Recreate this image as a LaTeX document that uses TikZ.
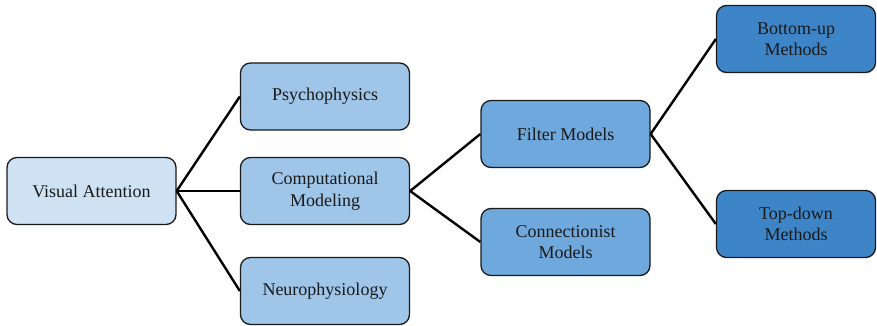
\documentclass[tikz,border=0pt]{standalone}
\usepackage{fontspec}
\setmainfont{Liberation Serif}
\definecolor{c1}{HTML}{CFE2F3}
\definecolor{c2}{HTML}{9FC5E8}
\definecolor{c3}{HTML}{6FA8DC}
\definecolor{c4}{HTML}{3D85C6}
\definecolor{ink}{HTML}{1A1A1A}
\begin{document}
\begin{tikzpicture}[x=1pt,y=-1pt,
  box/.style={draw=ink, line width=1.3pt, rounded corners=10pt,
    minimum width=169pt, minimum height=67pt, align=center,
    font=\fontsize{18}{21.5}\selectfont, text=ink, inner sep=0pt},
  lone/.style={box, fill=c1},
  ltwo/.style={box, fill=c2},
  lthree/.style={box, fill=c3},
  lfour/.style={box, fill=c4},
  link/.style={line width=2.4pt, draw=black}]
\useasboundingbox (0,0) rectangle (877,326);
\node[lone] (va) at (91.5,191) {Visual Attention};
\node[ltwo] (psy) at (325,96.5) {Psychophysics};
\node[ltwo] (comp) at (325,191) {Computational\\Modeling};
\node[ltwo] (neuro) at (325,291) {Neurophysiology};
\node[lthree] (filt) at (565.5,134) {Filter Models};
\node[lthree] (conn) at (565.5,242) {Connectionist\\Models};
\node[lfour, minimum width=159pt] (bu) at (796,39) {Bottom-up\\Methods};
\node[lfour, minimum width=159pt] (td) at (796,224) {Top-down\\Methods};
\draw[link] (va.east) -- (psy.west);
\draw[link] (va.east) -- (comp.west);
\draw[link] (va.east) -- (neuro.west);
\draw[link] (comp.east) -- (filt.west);
\draw[link] (comp.east) -- (conn.west);
\draw[link] (filt.east) -- (bu.west);
\draw[link] (filt.east) -- (td.west);
\end{tikzpicture}
\end{document}
